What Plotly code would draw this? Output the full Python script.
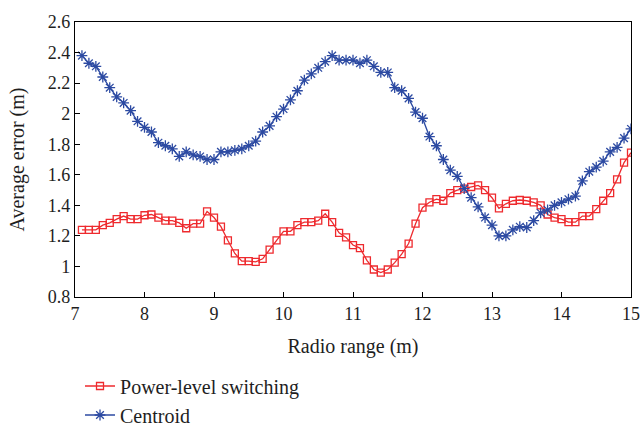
import plotly.graph_objects as go

# Radio range samples (m), 7.1 .. 15.0 in 0.1 steps
radio_range = [round(7.1 + 0.1 * i, 1) for i in range(80)]

power_level_switching = [
    1.24, 1.24, 1.24, 1.27, 1.285, 1.31, 1.33, 1.31, 1.31, 1.335,
    1.34, 1.32, 1.30, 1.30, 1.285, 1.25, 1.28, 1.28, 1.36, 1.32,
    1.26, 1.17, 1.085, 1.035, 1.035, 1.03, 1.05, 1.11, 1.17, 1.23,
    1.23, 1.27, 1.29, 1.29, 1.30, 1.345, 1.29, 1.22, 1.19, 1.14,
    1.12, 1.04, 0.98, 0.96, 0.98, 1.025, 1.08, 1.15, 1.28, 1.385,
    1.42, 1.44, 1.43, 1.48, 1.50, 1.51, 1.52, 1.53, 1.50, 1.45,
    1.38, 1.41, 1.43, 1.435, 1.43, 1.42, 1.40, 1.34, 1.32, 1.31,
    1.29, 1.29, 1.33, 1.33, 1.375, 1.43, 1.48, 1.57, 1.68, 1.745,
]

centroid = [
    2.38, 2.33, 2.31, 2.24, 2.17, 2.11, 2.07, 2.02, 1.95, 1.91,
    1.88, 1.81, 1.79, 1.77, 1.72, 1.75, 1.73, 1.72, 1.70, 1.70,
    1.75, 1.75, 1.76, 1.77, 1.79, 1.82, 1.88, 1.92, 1.98, 2.03,
    2.09, 2.15, 2.22, 2.26, 2.30, 2.34, 2.38, 2.35, 2.35, 2.35,
    2.33, 2.35, 2.31, 2.27, 2.27, 2.17, 2.15, 2.10, 2.01, 1.97,
    1.85, 1.79, 1.70, 1.63, 1.59, 1.51, 1.45, 1.39, 1.32, 1.27,
    1.20, 1.20, 1.24, 1.26, 1.255, 1.30, 1.35, 1.37, 1.40, 1.42,
    1.44, 1.46, 1.56, 1.62, 1.65, 1.69, 1.75, 1.78, 1.84, 1.90,
]

x_ticks = [7, 8, 9, 10, 11, 12, 13, 14, 15]
y_ticks = [0.8, 1, 1.2, 1.4, 1.6, 1.8, 2, 2.2, 2.4, 2.6]
y_tick_text = ["0.8", "1", "1.2", "1.4", "1.6", "1.8", "2", "2.2", "2.4", "2.6"]

RED = "#ee2a2e"
BLUE = "#2c4aa2"
TEXT = "#1e1e1e"
FONT = "Liberation Serif"

fig = go.Figure()
fig.add_trace(go.Scatter(
    x=radio_range, y=power_level_switching, mode="lines+markers",
    name="Power-level switching",
    line=dict(color=RED, width=1.3),
    marker=dict(symbol="square-open", size=7, color=RED, line=dict(width=1.3)),
))
fig.add_trace(go.Scatter(
    x=radio_range, y=centroid, mode="lines+markers",
    name="Centroid",
    line=dict(color=BLUE, width=1.3),
    marker=dict(symbol="asterisk-open", size=9, color=BLUE, line=dict(width=1.3, color=BLUE)),
))

axis_common = dict(
    showline=True, linecolor="black", linewidth=1.2, mirror=True,
    ticks="inside", ticklen=5, tickcolor="black", showgrid=False, zeroline=False,
    tickfont=dict(family=FONT, size=18, color=TEXT), automargin=False,
)
fig.update_xaxes(
    range=[7, 15], tickvals=x_ticks, ticktext=[str(v) for v in x_ticks],
    title=dict(text="Radio range (m)", font=dict(family=FONT, size=20, color=TEXT), standoff=16),
    **axis_common,
)
fig.update_yaxes(
    range=[0.8, 2.6], tickvals=y_ticks, ticktext=y_tick_text,
    title=dict(text="Average error (m)", font=dict(family=FONT, size=20, color=TEXT), standoff=17),
    **axis_common,
)

fig.update_layout(
    width=641, height=426,
    margin=dict(l=75, r=10, t=22, b=129, autoexpand=False),
    plot_bgcolor="white", paper_bgcolor="white",
    showlegend=True,
    legend=dict(
        orientation="v",
        x=0.009, xanchor="left", y=-0.50, yanchor="bottom",
        font=dict(family=FONT, size=20, color=TEXT),
        bgcolor="rgba(0,0,0,0)",
    ),
)

fig.write_html("out.html")
